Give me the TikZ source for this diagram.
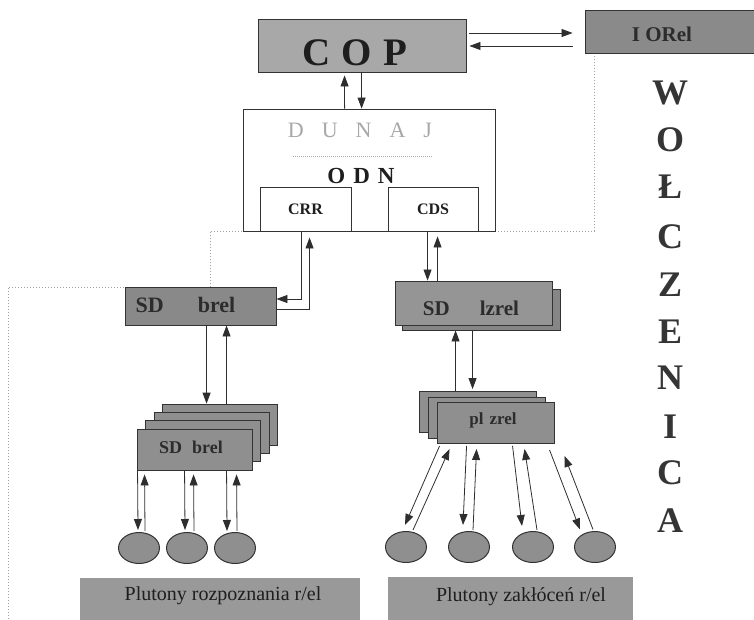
\documentclass[tikz,border=0pt]{standalone}
\usepackage{fontspec}
\setmainfont{Liberation Serif}
\usetikzlibrary{arrows.meta,shapes.geometric}

\definecolor{edge}{HTML}{333333}
\definecolor{linec}{HTML}{2E2E2E}
\definecolor{copfill}{HTML}{A8A8A8}
\definecolor{iofill}{HTML}{8A8A8A}
\definecolor{sdfill}{HTML}{898989}
\definecolor{sdlfill}{HTML}{959595}
\definecolor{sdlback}{HTML}{868686}
\definecolor{stkfill}{HTML}{8F8F8F}
\definecolor{ellfill}{HTML}{8F8F8F}
\definecolor{plfill}{HTML}{999999}
\definecolor{dotc}{HTML}{A0A0A0}
\definecolor{dunajc}{HTML}{A8A8A8}
\definecolor{ink}{HTML}{1E1E1E}
\definecolor{sdink}{HTML}{2C2C2C}

\newcommand{\fsz}[1]{\fontsize{#1pt}{#1pt}\selectfont}

\begin{document}
\begin{tikzpicture}[x=1pt,y=-1pt,
  box/.style={draw=edge, line width=0.9pt, rectangle, inner sep=0pt},
  ell/.style={draw=edge, line width=1pt, ellipse, fill=ellfill, inner sep=0pt,
              minimum width=41pt, minimum height=31pt},
  arr/.style={draw=linec, line width=0.8pt, -{Triangle[length=11pt,width=8pt]}},
  boundary/.style={draw=dotc, line width=0.7pt, dash pattern=on 1pt off 2pt},
  lbl/.style={inner sep=0pt, text=ink},
  sdlbl/.style={inner sep=0pt, text=sdink, font=\bfseries}]

\useasboundingbox (0,0) rectangle (754,620);

% zone boundary (dotted)
\draw[boundary] (8,625) -- (8,287) -- (210,287) -- (210,231) -- (243,231);
\draw[boundary] (495,231) -- (594,231) -- (594,53);

% top level
\node[box, fill=copfill, minimum width=208pt, minimum height=53pt] (cop) at (362,45.5) {};
\node[lbl, font=\fsz{39}\bfseries] (copt) at (355,52.5) {C\hspace{11pt}O\hspace{11pt}P};

\node[box, fill=iofill, minimum width=172pt, minimum height=43pt] (iorel) at (671,31.5) {};
\node[sdlbl, font=\fsz{21}\bfseries] (iorelt) at (662,34) {I ORel};

% DUNAJ / ODN block
\node[box, fill=white, line width=0.8pt, minimum width=252pt, minimum height=122pt] (dunaj) at (369,170) {};
\node[inner sep=0pt, text=dunajc, font=\fsz{22}] (dunajt) at (360,130)
  {D\hspace{18pt}U\hspace{18pt}N\hspace{18pt}A\hspace{18pt}J};
\draw[draw=dunajc, line width=0.8pt, dash pattern=on 1pt off 1pt] (293,156) -- (433,156);
\node[lbl, font=\fsz{23}\bfseries] (odnt) at (361,176) {O\hspace{8pt}D\hspace{8pt}N};
\node[box, minimum width=91pt, minimum height=44pt, font=\fsz{16}\bfseries, text=ink] (crr) at (305.5,209) {CRR};
\node[box, minimum width=90pt, minimum height=44pt, font=\fsz{16}\bfseries, text=ink] (cds) at (433,209) {CDS};

% reconnaissance branch
\node[box, fill=sdfill, minimum width=151pt, minimum height=38pt] (sdb) at (200.5,306) {};
\node[sdlbl, font=\fsz{22}\bfseries] (sdbt) at (185.5,305) {SD\hspace{34pt}brel};

\foreach \k in {3,2,1,0}
  \node[box, fill=stkfill, minimum width=115pt, minimum height=41pt]
    (sbk\k) at ({194.5+8.5*\k},{449.5-8.3*\k}) {};
\node[sdlbl, font=\fsz{18}\bfseries] (sbkt) at (191,447) {SD\hspace{10pt}brel};

\node[ell] (le1) at (139,548) {};
\node[ell] (le2) at (187,548) {};
\node[ell] (le3) at (235,548) {};

% jamming branch
\node[box, fill=sdlback, minimum width=158pt, minimum height=41pt] (sdlb) at (481,309.5) {};
\node[box, fill=sdlfill, minimum width=157pt, minimum height=44pt] (sdl) at (473.5,303) {};
\node[sdlbl, font=\fsz{21}\bfseries] (sdlt) at (471,308) {SD\hspace{30pt}lzrel};

\node[box, fill=stkfill, minimum width=117pt, minimum height=41pt] (plz1) at (477.5,412) {};
\node[box, fill=stkfill, minimum width=117pt, minimum height=41pt] (plz2) at (486.5,418) {};
\node[box, fill=stkfill, minimum width=117pt, minimum height=41pt] (plz3) at (495.5,423) {};
\node[sdlbl, font=\fsz{17}\bfseries] (plzt) at (493,420) {pl\hspace{6pt}zrel};

\node[ell] (re1) at (406,547) {};
\node[ell] (re2) at (469,547) {};
\node[ell] (re3) at (533,547) {};
\node[ell] (re4) at (595,547) {};

% platoon bars
\node[box, draw=none, fill=plfill, minimum width=280pt, minimum height=47pt] (pb1) at (220,601.5) {};
\node[lbl, font=\fsz{20}] (pb1t) at (223,596) {Plutony rozpoznania r/el};
\node[box, draw=none, fill=plfill, minimum width=245pt, minimum height=48pt] (pb2) at (510.5,601) {};
\node[lbl, font=\fsz{20}] (pb2t) at (521,597) {Plutony zakłóceń r/el};

% side caption
\foreach \ch/\yy [count=\i] in {W/93,O/140,Ł/187,C/237,Z/285,E/332,N/378,I/427,C/473,A/521}
  \node[lbl, text=ink!90, font=\fsz{36}\bfseries] (w\i) at (670,\yy) {\ch};

% COP <-> I ORel
\draw[arr] ([shift={(3pt,12.5pt)}]cop.east) -- ([shift={(-12pt,-1.5pt)}]iorel.west);
\draw[arr] ([shift={(-12pt,-14.5pt)}]iorel.west) -- ([shift={(3pt,-0.5pt)}]cop.east);

% COP <-> DUNAJ
\draw[arr] ([xshift=102pt]dunaj.north west) -- ([xshift=87pt,yshift=-3pt]cop.south west);
\draw[arr] ([xshift=104pt]cop.south west) -- ([xshift=119pt]dunaj.north west);

% CRR <-> SD brel
\draw[arr] ([xshift=42pt]crr.south west) |- ([yshift=7pt]sdb.east);
\draw[arr] ([yshift=-3pt]sdb.east) -| ([xshift=50pt,yshift=-6pt]crr.south west);

% CDS <-> SD lzrel
\draw[arr] ([xshift=40pt]cds.south west) -- ([xshift=33pt]sdl.north west);
\draw[arr] ([xshift=43pt]sdl.north west) -- ([xshift=50pt,yshift=-5pt]cds.south west);

% SD lzrel <-> pl zrel
\draw[arr] ([xshift=37pt]plz1.north west) -- ([xshift=54pt]sdlb.south west);
\draw[arr] ([xshift=71pt]sdlb.south west) -- ([xshift=54pt,yshift=2pt]plz1.north west);

% SD brel <-> SD brel stack
\draw[arr] ([xshift=82pt]sdb.south west) -- ([xshift=44.5pt]sbk3.north west);
\draw[arr] ([xshift=64.5pt]sbk3.north west) -- ([xshift=102pt]sdb.south west);

% stack <-> reconnaissance platoons
\draw[arr] ([xshift=1pt]sbk0.south west) -- ([xshift=-1pt,yshift=2pt]le1.north);
\draw[arr] ([xshift=6pt,yshift=1pt]le1.north) -- ([xshift=8pt,yshift=-4pt]sbk0.south west);
\draw[arr] ([xshift=48pt]sbk0.south west) -- ([xshift=-2pt,yshift=2pt]le2.north);
\draw[arr] ([xshift=7pt,yshift=1pt]le2.north) -- ([xshift=57pt,yshift=-4pt]sbk0.south west);
\draw[arr] ([xshift=90pt]sbk0.south west) -- ([xshift=-8pt,yshift=1pt]le3.north);
\draw[arr] ([xshift=2pt,yshift=1pt]le3.north) -- ([xshift=100pt,yshift=-4pt]sbk0.south west);

% pl zrel <-> jamming platoons
\draw[arr] ([shift={(3pt,-2pt)}]plz3.south west) -- ([shift={(-1pt,6pt)}]re1.north);
\draw[arr] ([shift={(7pt,1pt)}]re1.north) -- ([shift={(13pt,-5pt)}]plz3.south west);
\draw[arr] ([shift={(30pt,-2pt)}]plz3.south west) -- ([shift={(-6pt,6pt)}]re2.north);
\draw[arr] ([shift={(4pt,1pt)}]re2.north) -- ([shift={(40pt,-5pt)}]plz3.south west);
\draw[arr] ([shift={(76pt,-2pt)}]plz3.south west) -- ([shift={(-11pt,5pt)}]re3.north);
\draw[arr] ([shift={(4pt,1pt)}]re3.north) -- ([shift={(88pt,-5pt)}]plz3.south west);
\draw[arr] ([shift={(113pt,-6pt)}]plz3.south west) -- ([shift={(-15pt,1.5pt)}]re4.north);
\draw[arr] ([shift={(-2pt,1.5pt)}]re4.north) -- ([shift={(128pt,-12pt)}]plz3.south west);

\end{tikzpicture}
\end{document}
